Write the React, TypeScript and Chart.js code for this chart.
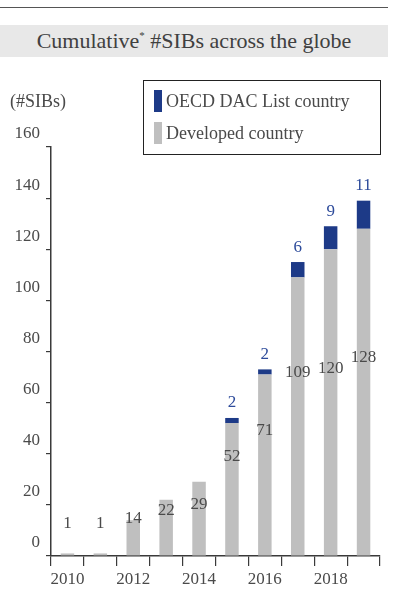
import React, { useEffect, useRef } from "react";
import { Chart, registerables } from "chart.js";

Chart.register(...registerables);

// ---- data ----
const years = ["2010", "2011", "2012", "2013", "2014", "2015", "2016", "2017", "2018", "2019"];
const developedCountry = [1, 1, 14, 22, 29, 52, 71, 109, 120, 128];
const oecdDacCountry = [0, 0, 0, 0, 0, 2, 2, 6, 9, 11];
// where (in #SIBs units) each developed-country label sits in the original
const developedLabelAnchor = [12.8, 12.8, 14.8, 17.6, 20.3, 39, 48.9, 71.6, 73.2, 77.5];
const yMin = 0;
const yMax = 160;
const yStep = 20;

const SERIF = '"Liberation Serif", "Times New Roman", serif';
const GREY_BAR = "#bfbfbf";
const BLUE_BAR = "#1d3a87";
const TEXT = "#4a4a4a";
const BLUE_TEXT = "#2d4b9b";
const AXIS = "#3a3a3a";

const labelPlugin = {
  id: "valueLabels",
  afterDatasetsDraw(chart: any) {
    const ctx = chart.ctx;
    const yScale = chart.scales.y;
    const devMeta = chart.getDatasetMeta(0);
    const dacMeta = chart.getDatasetMeta(1);
    ctx.save();
    ctx.font = `17px ${SERIF}`;
    ctx.textAlign = "center";
    ctx.textBaseline = "middle";
    developedCountry.forEach((v, i) => {
      const bar = devMeta.data[i];
      if (!bar) return;
      ctx.fillStyle = TEXT;
      ctx.fillText(String(v), bar.x, yScale.getPixelForValue(developedLabelAnchor[i]));
    });
    oecdDacCountry.forEach((v, i) => {
      if (!v) return;
      const bar = dacMeta.data[i];
      if (!bar) return;
      ctx.fillStyle = BLUE_TEXT;
      ctx.fillText(String(v), bar.x, bar.y - 15);
    });
    ctx.restore();
  },
};

export default function App() {
  const canvasRef = useRef<HTMLCanvasElement | null>(null);

  useEffect(() => {
    document.body.style.margin = "0";
    const canvas = canvasRef.current;
    if (!canvas) return;
    const chart = new Chart(canvas, {
      type: "bar",
      data: {
        labels: years,
        datasets: [
          {
            label: "Developed country",
            data: developedCountry,
            backgroundColor: GREY_BAR,
            borderWidth: 0,
            barPercentage: 0.41,
            categoryPercentage: 1,
          },
          {
            label: "OECD DAC List country",
            data: oecdDacCountry,
            backgroundColor: BLUE_BAR,
            borderWidth: 0,
            barPercentage: 0.41,
            categoryPercentage: 1,
          },
        ],
      },
      options: {
        responsive: false,
        animation: false,
        devicePixelRatio: 1,
        layout: { padding: { top: 147, right: 16, left: 0, bottom: 0 } },
        plugins: {
          legend: { display: false },
          tooltip: { enabled: false },
          title: { display: false },
        },
        scales: {
          x: {
            stacked: true,
            offset: true,
            grid: {
              display: true,
              offset: true,
              drawOnChartArea: false,
              drawTicks: true,
              tickLength: 10,
              color: AXIS,
              lineWidth: 1.2,
            },
            border: { display: true, color: AXIS, width: 1.5 },
            ticks: {
              autoSkip: false,
              maxRotation: 0,
              padding: 3,
              color: TEXT,
              font: { family: SERIF, size: 17 },
              callback: (_v: any, i: number) => (i % 2 === 0 ? years[i] : ""),
            },
            afterFit: (scale: any) => {
              scale.height = 41;
            },
          },
          y: {
            stacked: true,
            min: yMin,
            max: yMax,
            grid: {
              display: true,
              drawOnChartArea: false,
              drawTicks: true,
              tickLength: 5,
              color: AXIS,
              lineWidth: 1.2,
            },
            border: { display: true, color: AXIS, width: 1.5 },
            ticks: {
              stepSize: yStep,
              padding: 6,
              labelOffset: -13,
              color: TEXT,
              font: { family: SERIF, size: 17 },
            },
            afterFit: (scale: any) => {
              scale.width = 51;
            },
          },
        },
      },
      plugins: [labelPlugin],
    });
    return () => chart.destroy();
  }, []);

  return (
    <div style={{ position: "relative", width: 396, height: 597, background: "#fff", overflow: "hidden" }}>
      <canvas ref={canvasRef} width={396} height={597} style={{ position: "absolute", left: 0, top: 0 }} />
      <div style={{ position: "absolute", left: 0, top: 7, width: 388, height: 1, background: "#555" }} />
      <div
        style={{
          position: "absolute",
          left: 0,
          top: 25,
          width: 388,
          height: 32,
          background: "#e8e8e8",
          display: "flex",
          alignItems: "center",
          justifyContent: "center",
          fontFamily: SERIF,
          fontSize: 22,
          color: "#404040",
          lineHeight: "32px",
          whiteSpace: "nowrap",
        }}
      >
        <span>
          Cumulative<sup style={{ fontSize: 11, verticalAlign: "9px", lineHeight: 0 }}>*</sup> #SIBs across the globe
        </span>
      </div>
      <div
        style={{
          position: "absolute",
          left: 10,
          top: 91,
          fontFamily: SERIF,
          fontSize: 18,
          color: TEXT,
          lineHeight: "21px",
          whiteSpace: "nowrap",
        }}
      >
        (#SIBs)
      </div>
      <div
        style={{
          position: "absolute",
          left: 143,
          top: 80,
          width: 238,
          height: 75,
          boxSizing: "border-box",
          border: "1.5px solid #222",
          background: "#fff",
          fontFamily: SERIF,
          fontSize: 18,
          color: TEXT,
        }}
      >
        <div style={{ position: "absolute", left: 10, top: 9, width: 8, height: 22, background: BLUE_BAR }} />
        <div style={{ position: "absolute", left: 22, top: 9, lineHeight: "22px", whiteSpace: "nowrap" }}>
          OECD DAC List country
        </div>
        <div style={{ position: "absolute", left: 10, top: 41, width: 8, height: 22, background: GREY_BAR }} />
        <div style={{ position: "absolute", left: 22, top: 41, lineHeight: "22px", whiteSpace: "nowrap" }}>
          Developed country
        </div>
      </div>
    </div>
  );
}
